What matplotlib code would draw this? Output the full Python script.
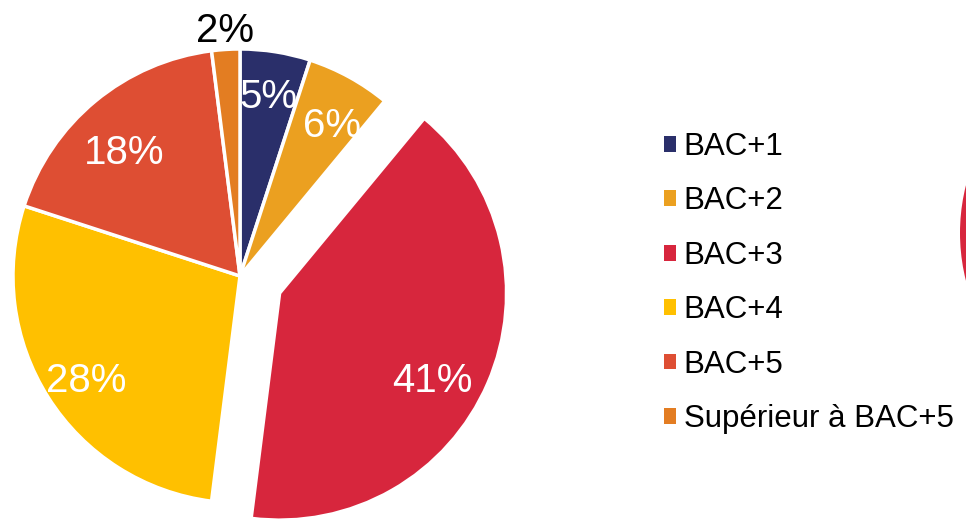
import matplotlib
matplotlib.use("Agg")
import matplotlib.pyplot as plt
from matplotlib.patches import Patch, Circle

plt.rcParams["font.family"] = ["Liberation Sans", "DejaVu Sans"]

# Niveau de diplôme : répartition (%)
LEVELS = ["BAC+1", "BAC+2", "BAC+3", "BAC+4", "BAC+5", "Supérieur à BAC+5"]
SHARES = [5, 6, 41, 28, 18, 2]
COLORS = ["#2A2F6A", "#EBA020", "#D7263D", "#FFC000", "#DE4E33", "#E37D22"]
EXPLODE = [0, 0, 0.19, 0, 0, 0]
# small nudges of the % labels (axes data units), like the hand-placed originals
LABEL_NUDGE = [(0, 0), (0.018, -0.04), (-0.062, -0.07), (0, -0.035), (0, -0.075), (0, 0)]

W, H, DPI = 966, 524, 100
fig = plt.figure(figsize=(W / DPI, H / DPI), dpi=DPI)

# pie axes: centre at (240, 276) px from top-left, radius ~227 px
R_PX = 227
cx, cy = 240, H - 276
half = 1.25 * R_PX
ax = fig.add_axes([(cx - half) / W, (cy - half) / H, 2 * half / W, 2 * half / H])

wedges, texts, autotexts = ax.pie(
    SHARES,
    colors=COLORS,
    explode=EXPLODE,
    startangle=90,
    counterclock=False,
    autopct="%d%%",
    pctdistance=0.8,
    wedgeprops=dict(edgecolor="white", linewidth=2.5),
    textprops=dict(fontsize=29, color="white"),
)
ax.set_xlim(-1.25, 1.25)
ax.set_ylim(-1.25, 1.25)

for t, v, (dx, dy) in zip(autotexts, SHARES, LABEL_NUDGE):
    x, y = t.get_position()
    if v < 3:
        # small slice label goes outside, in black
        x, y = x * 1.08 / 0.8, y * 1.08 / 0.8
        t.set_color("black")
    t.set_position((x + dx, y + dy))

handles = [Patch(facecolor=c, edgecolor="none") for c in COLORS]
fig.legend(
    handles, LEVELS,
    loc="center left",
    bbox_to_anchor=(651 / W, 1 - 283 / H),
    frameon=False,
    fontsize=22.5,
    handlelength=0.4,
    handleheight=0.4,
    handletextpad=0.25,
    labelspacing=0.78,
    borderaxespad=0,
)

# edge of the neighbouring pie, cut off at the right border
fig.patches.append(Circle((11.55, (H - 233) / DPI), 1.95, transform=fig.dpi_scale_trans,
                          facecolor="#D7263D", edgecolor="none"))

fig.savefig("out.png", dpi=DPI)
